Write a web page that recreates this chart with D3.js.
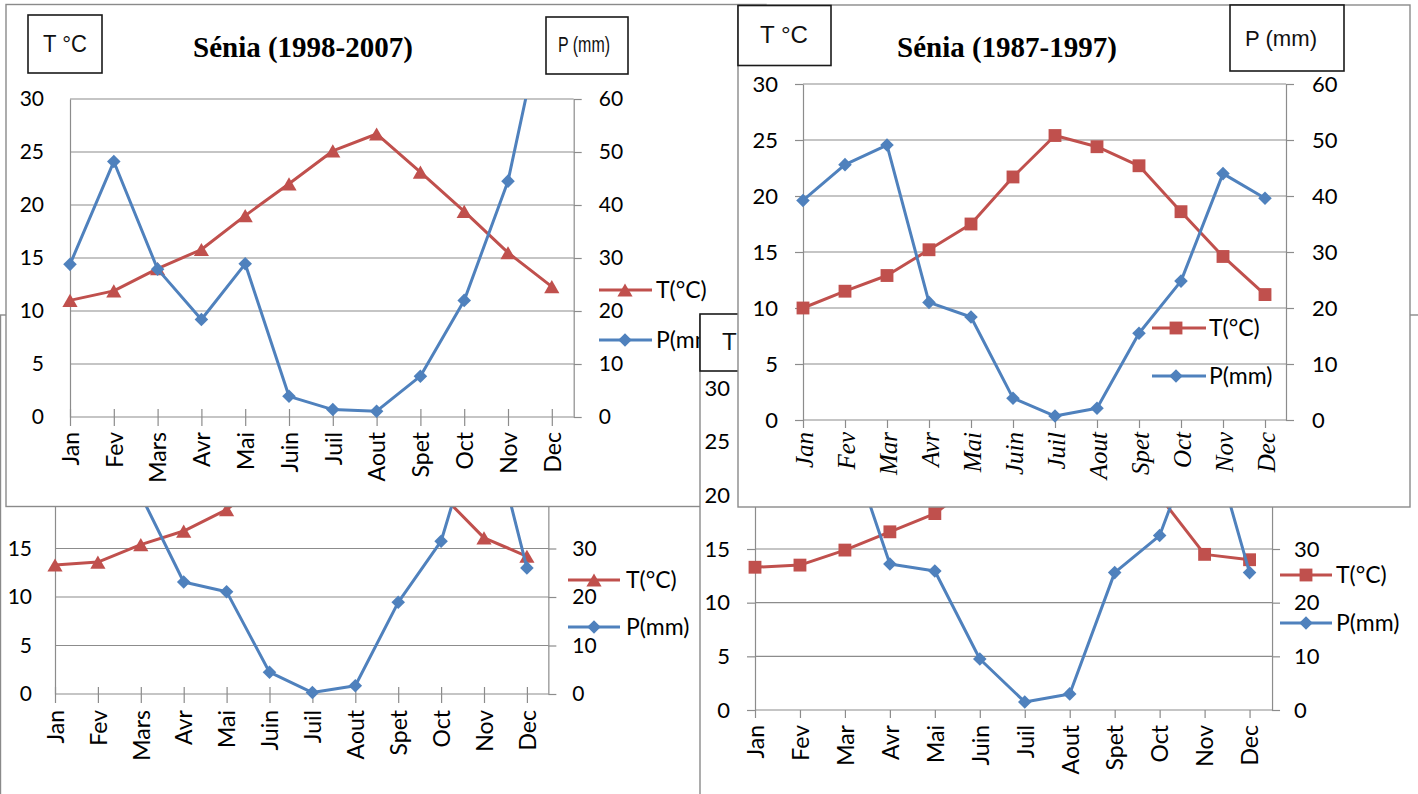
<!DOCTYPE html>
<html lang="fr">
<head>
<meta charset="UTF-8">
<title>Sénia - diagrammes ombrothermiques</title>
<script src="https://cdnjs.cloudflare.com/ajax/libs/d3/7.8.5/d3.min.js"></script>
<style>
    body { margin: 0; background: #fff; }
    svg { display: block; }
</style>
</head>
<body>
<svg id="chart" width="1418" height="794"></svg>
<script>
// month labels (two spellings used in the sheets)
const monthsA = ["Jan", "Fev", "Mars", "Avr", "Mai", "Juin", "Juil", "Aout", "Spet", "Oct", "Nov", "Dec"];
const monthsB = ["Jan", "Fev", "Mar", "Avr", "Mai", "Juin", "Juil", "Aout", "Spet", "Oct", "Nov", "Dec"];
const tTicks = [0, 5, 10, 15, 20, 25, 30];
const pTicks = [0, 10, 20, 30, 40, 50, 60];
const legendNames = ["T(°C)", "P(mm)"];
const boxNames = ["T °C", "P (mm)"];
const titleTL = "Sénia (1998-2007)";
const titleTR = "Sénia (1987-1997)";

// values (hidden parts estimated)
const tempTL = [11.0, 11.9, 14.0, 15.8, 19.0, 22.0, 25.1, 26.7, 23.1, 19.4, 15.5, 12.3];
const precTL = [28.8, 48.2, 27.9, 18.4, 28.9, 3.9, 1.4, 1.1, 7.7, 22.0, 44.5, 83.0];
const tempTR = [10.0, 11.5, 12.9, 15.2, 17.5, 21.7, 25.4, 24.4, 22.7, 18.6, 14.6, 11.2];
const precTR = [39.2, 45.6, 49.1, 21.0, 18.4, 3.9, 0.7, 2.1, 15.5, 24.8, 44.0, 39.6];
const tempBL = [13.3, 13.6, 15.4, 16.8, 19.0, 22.5, 25.5, 26.0, 23.5, 20.6, 16.1, 14.2];
const precBL = [48.0, 52.0, 41.0, 23.1, 21.1, 4.5, 0.3, 1.7, 18.9, 31.5, 61.0, 26.0];
const tempBR = [13.3, 13.5, 14.9, 16.6, 18.3, 21.5, 24.5, 25.0, 23.0, 19.9, 14.5, 14.0];
const precBR = [45.0, 50.0, 52.0, 27.2, 25.9, 9.5, 1.5, 3.0, 25.6, 32.5, 55.0, 25.6];

const RED = "#C0504D", BLUE = "#4F81BD", GRID = "#8c8c8c";
const SANS = "Lato, 'Open Sans', sans-serif";
const SERIF = "'Liberation Serif', 'Times New Roman', serif";

const svg = d3.select("#chart");

// layout of the four pasted charts, drawn bottom to top
const panels = [
    { id: "bl", months: monthsA, temp: tempBL, prec: precBL, tMarker: "triangle",
      frame: [0.5, 315, 712, 500], x0: 55, step: 42.9, y0: 694, yTop: 403,
      leftTick: 0, leftPad: 23, rightPad: 16, numSize: 21,
      xTickUp: 7, xTickDown: 9, labGap: 16, monthFont: SANS, monthSize: 23, monthStyle: "normal",
      legend: { x0: 568, x1: 620, mx: 594, tx: 626, y: [580, 627] },
      boxes: [] },
    { id: "tl", months: monthsA, temp: tempTL, prec: precTL, tMarker: "triangle",
      frame: [6, 4.5, 760, 502], x0: 70, step: 43.8, y0: 417, yTop: 99,
      leftTick: 0, leftPad: 26, rightPad: 17, numSize: 21,
      xTickUp: 8, xTickDown: 9, labGap: 15, monthFont: SANS, monthSize: 23, monthStyle: "normal",
      legend: { x0: 599, x1: 652, mx: 625, tx: 656, y: [290, 340] },
      title: { text: titleTL, x: 303, y: 57 },
      boxes: [ { k: 0, r: [28, 15, 74, 58], cx: 65, by: 52, size: 24, len: 44 },
               { k: 1, r: [546, 17, 82, 57], cx: 584, by: 52, size: 22, len: 52 } ] },
    { id: "br", months: monthsB, temp: tempBR, prec: precBR, tMarker: "square",
      frame: [700, 315, 730, 500], x0: 755, step: 44.96, y0: 710, yTop: 388,
      leftTick: 8, leftPad: 17, rightPad: 14, numSize: 22,
      xTickUp: 0, xTickDown: 8, labGap: 15, monthFont: SANS, monthSize: 23, monthStyle: "normal",
      legend: { x0: 1280, x1: 1332, mx: 1306, tx: 1336, y: [575, 623] },
      boxes: [ { k: 0, r: [700, 314, 93, 57], cx: 746, by: 350, size: 24, len: 48 } ] },
    { id: "tr", months: monthsB, temp: tempTR, prec: precTR, tMarker: "square",
      frame: [738, 5, 672, 502], x0: 803, step: 42, y0: 420, yTop: 84,
      leftTick: 8, leftPad: 17, rightPad: 18, numSize: 22,
      xTickUp: 0, xTickDown: 8, labGap: 12, monthFont: SERIF, monthSize: 25, monthStyle: "italic",
      legend: { x0: 1152, x1: 1206, mx: 1176, tx: 1209, y: [328, 376] },
      title: { text: titleTR, x: 1007, y: 57 },
      boxes: [ { k: 0, r: [738, 5.5, 93, 60], cx: 784, by: 43, size: 24, len: 48 },
               { k: 1, r: [1230, 5, 114, 66], cx: 1281, by: 46, size: 22, len: 72 } ] }
];

function marker(g, kind, cx, cy, color) {
    let sym, rot = 0, dy = 0;
    if (kind === "triangle") { sym = d3.symbol(d3.symbolTriangle, 100); dy = 2.2; }
    else if (kind === "square") { sym = d3.symbol(d3.symbolSquare, 165); }
    else { sym = d3.symbol(d3.symbolSquare, 92); rot = 45; }
    g.append("path").attr("d", sym())
        .attr("transform", `translate(${cx},${cy + dy}) rotate(${rot})`)
        .attr("fill", color);
}

function styleNums(axisG, size) {
    axisG.selectAll(".tick line").attr("stroke", GRID).attr("stroke-width", 1.2);
    axisG.selectAll(".tick text").attr("font-family", SANS).attr("font-size", size).attr("fill", "#000");
}

function drawPanel(c) {
    const g = svg.append("g").attr("class", "panel-" + c.id);
    g.append("rect")
        .attr("x", c.frame[0]).attr("y", c.frame[1])
        .attr("width", c.frame[2]).attr("height", c.frame[3])
        .attr("fill", "#fff").attr("stroke", "#8a8a8a").attr("stroke-width", 1.4);

    const xR = c.x0 + 11.5 * c.step;
    const x = d3.scalePoint().domain(c.months).range([c.x0, c.x0 + 11 * c.step]);
    const yT = d3.scaleLinear().domain([0, 30]).range([c.y0, c.yTop]);
    const yP = d3.scaleLinear().domain([0, 60]).range([c.y0, c.yTop]);

    // gridlines
    g.append("g").selectAll("line").data(tTicks).join("line")
        .attr("x1", c.x0).attr("x2", xR)
        .attr("y1", d => yT(d)).attr("y2", d => yT(d))
        .attr("stroke", GRID).attr("stroke-width", 1.2);

    // left (T) and right (P) axes
    const aL = g.append("g").attr("transform", `translate(${c.x0},0)`)
        .call(d3.axisLeft(yT).tickValues(tTicks).tickSize(c.leftTick).tickSizeOuter(0).tickPadding(c.leftPad));
    aL.select(".domain").attr("stroke", GRID).attr("stroke-width", 1.2);
    styleNums(aL, c.numSize);

    const aR = g.append("g").attr("transform", `translate(${xR},0)`)
        .call(d3.axisRight(yP).tickValues(pTicks).tickSize(8).tickSizeOuter(0).tickPadding(c.rightPad));
    aR.select(".domain").attr("stroke", GRID).attr("stroke-width", 1.2);
    styleNums(aR, c.numSize);

    // month axis
    const aB = g.append("g").attr("transform", `translate(0,${c.y0})`)
        .call(d3.axisBottom(x).tickSize(c.xTickDown));
    aB.select(".domain").remove();
    aB.selectAll(".tick line").attr("y1", -c.xTickUp).attr("y2", c.xTickDown)
        .attr("stroke", GRID).attr("stroke-width", 1.2);
    aB.selectAll(".tick text")
        .attr("transform", "rotate(-90)")
        .attr("text-anchor", "end")
        .attr("x", -c.labGap).attr("y", 0).attr("dy", "0.36em")
        .attr("font-family", c.monthFont).attr("font-style", c.monthStyle)
        .attr("font-size", c.monthSize).attr("fill", "#000");

    // series, lines clipped at the plot area like the spreadsheet does
    const clipId = "clip-" + c.id;
    g.append("clipPath").attr("id", clipId).append("rect")
        .attr("x", c.x0 - 30).attr("y", c.yTop)
        .attr("width", xR - c.x0 + 60).attr("height", c.y0 - c.yTop + 40);

    const series = [
        { vals: c.temp, y: yT, max: 30, color: RED, kind: c.tMarker },
        { vals: c.prec, y: yP, max: 60, color: BLUE, kind: "diamond" }
    ];
    series.forEach(s => {
        const line = d3.line().x((d, i) => x(c.months[i])).y(d => s.y(d));
        g.append("path").attr("d", line(s.vals))
            .attr("fill", "none").attr("stroke", s.color).attr("stroke-width", 3)
            .attr("stroke-linejoin", "round")
            .attr("clip-path", `url(#${clipId})`);
        s.vals.forEach((v, i) => {
            if (v <= s.max) marker(g, s.kind, x(c.months[i]), s.y(v), s.color);
        });
    });

    // legend
    series.forEach((s, k) => {
        const ly = c.legend.y[k];
        g.append("line").attr("x1", c.legend.x0).attr("x2", c.legend.x1)
            .attr("y1", ly).attr("y2", ly)
            .attr("stroke", s.color).attr("stroke-width", 3);
        marker(g, s.kind, c.legend.mx, ly, s.color);
        g.append("text").attr("x", c.legend.tx).attr("y", ly).attr("dy", "0.36em")
            .attr("font-family", SANS).attr("font-size", 23).attr("fill", "#000")
            .text(legendNames[k]);
    });

    // unit boxes
    c.boxes.forEach(b => {
        g.append("rect").attr("x", b.r[0]).attr("y", b.r[1])
            .attr("width", b.r[2]).attr("height", b.r[3])
            .attr("fill", "#fff").attr("stroke", "#1a1a1a").attr("stroke-width", 1.6);
        g.append("text").attr("x", b.cx).attr("y", b.by)
            .attr("text-anchor", "middle")
            .attr("font-family", "'Liberation Sans', Arial, sans-serif")
            .attr("font-size", b.size).attr("fill", "#111")
            .attr("textLength", b.len).attr("lengthAdjust", "spacingAndGlyphs")
            .text(boxNames[b.k]);
    });

    if (c.title) {
        g.append("text").attr("x", c.title.x).attr("y", c.title.y)
            .attr("text-anchor", "middle")
            .attr("font-family", SERIF).attr("font-weight", "bold")
            .attr("font-size", 29).attr("fill", "#000")
            .text(c.title.text);
    }
}

panels.forEach(drawPanel);
</script>
</body>
</html>
